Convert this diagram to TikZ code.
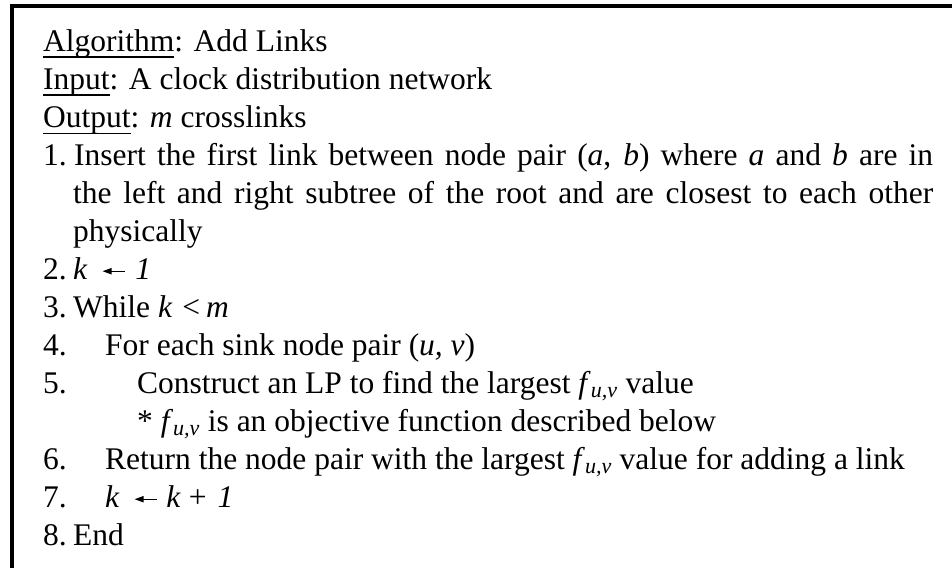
\documentclass[tikz,border=0pt]{standalone}
\usepackage{fontspec}
\setmainfont{Liberation Serif}
\usepackage{tikz}
\newcommand\algfont{\fontsize{31.5}{38}\selectfont}
\newcommand\fuv{\textit{f}\textsubscript{\textit{u,v}}}
\newcommand\algul[1]{\setbox0\hbox{#1}\rlap{\rule[-6.4pt]{\wd0}{1.6pt}}\box0}
\newcommand\algarrow{\tikz[baseline=0pt,x=1pt,y=1pt]{\draw[line width=1.4pt] (6,8.5) -- (22,8.5); \fill (0,8.5) -- (9,11.8) -- (9,5.2) -- cycle;}}
\tikzset{
  algline/.style={anchor=base west, inner sep=0pt, font=\algfont, text=black},
  algframe/.style={draw=black, line width=4pt, line cap=rect}
}
\begin{document}
\begin{tikzpicture}[x=1pt, y=-1pt]
  \useasboundingbox (0,0) rectangle (952,567);
  \fill[white] (0,0) rectangle (952,567);
  \draw[algframe] (12,569) -- (12,6) -- (954,6);

  % header
  \node[algline] (alg)  at (43, 51.7) {\algul{Algorithm}: Add Links};
  \node[algline] (inp)  at (43, 89.7) {\algul{Input}: A clock distribution network};
  \node[algline] (outp) at (43,127.7) {\algul{Output}: \textit{m} crosslinks};

  % step 1
  \node[algline] (n1)  at (43,165.7) {1.};
  \node[algline] (s1a) at (74,165.7) {\makebox[859pt][s]{Insert the first link between node pair (\textit{a}, \textit{b}) where \textit{a} and \textit{b} are in}};
  \node[algline] (s1b) at (73,203.7) {\makebox[860pt][s]{the left and right subtree of the root and are closest to each other}};
  \node[algline] (s1c) at (73,241.7) {physically};

  % steps 2 to 8
  \node[algline] (n2) at (43,279.7) {2.};
  \node[algline] (s2) at (73,279.7) {\textit{k}\hspace{15pt}\algarrow\hspace{10pt}\textit{1}};
  \node[algline] (n3) at (43,317.7) {3.};
  \node[algline] (s3) at (73,317.7) {While \textit{k}\hspace{10pt}<\hspace{6pt}\textit{m}};
  \node[algline] (n4) at (43,355.7) {4.};
  \node[algline] (s4) at (105,355.7) {For each sink node pair (\textit{u, v})};
  \node[algline] (n5) at (43,393.7) {5.};
  \node[algline] (s5) at (137,393.7) {Construct an LP to find the largest \fuv{} value};
  \node[algline] (s5n) at (137,431.7) {* \fuv{} is an objective function described below};
  \node[algline] (n6) at (43,469.7) {6.};
  \node[algline] (s6) at (105,469.7) {Return the node pair with the largest \fuv{} value for adding a link};
  \node[algline] (n7) at (43,507.7) {7.};
  \node[algline] (s7) at (105,507.7) {\textit{k}\hspace{15pt}\algarrow\hspace{9pt}\textit{k}\hspace{8pt}+\hspace{11pt}\textit{1}};
  \node[algline] (n8) at (43,545.7) {8.};
  \node[algline] (s8) at (73,545.7) {End};
\end{tikzpicture}
\end{document}
